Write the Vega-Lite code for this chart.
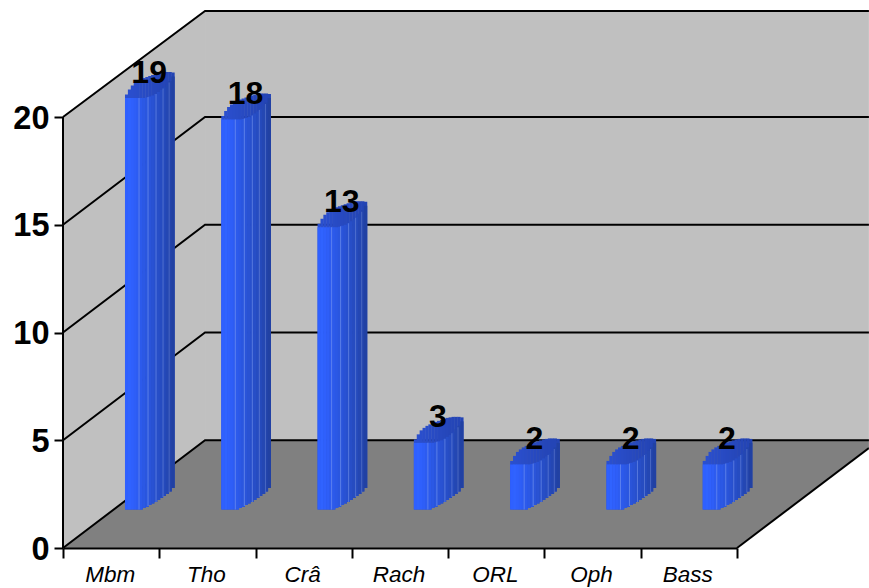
{"$schema":"https://vega.github.io/schema/vega-lite/v6.json","width":869,"height":588,"padding":0,"autosize":{"type":"none"},"background":"white","config":{"view":{"stroke":null},"font":"Liberation Sans"},
"datasets":{
"bars":[{"category":"Mbm","value":19},{"category":"Tho","value":18},{"category":"Crâ","value":13},{"category":"Rach","value":3},{"category":"ORL","value":2},{"category":"Oph","value":2},{"category":"Bass","value":2}],
"surfaces":[{"surface":"side","depth":0,"low":0,"high":20},{"surface":"side","depth":1.475,"low":5,"high":24.92},{"surface":"back","depth":1.475,"low":5,"high":24.92},{"surface":"back","depth":8.37,"low":5,"high":24.92},{"surface":"floor","depth":0,"low":0,"high":0},{"surface":"floor","depth":1.475,"low":0,"high":5},{"surface":"floor","depth":7,"low":0,"high":5},{"surface":"floor","depth":8.37,"low":4.64,"high":5}],
"edges":[{"edge":"left","depth":0,"level":0},{"edge":"left","depth":0,"level":20},
{"edge":"g0","depth":0,"level":0},{"edge":"g0","depth":1.475,"level":5},{"edge":"g0","depth":8.37,"level":5},
{"edge":"g5","depth":0,"level":5},{"edge":"g5","depth":1.475,"level":10},{"edge":"g5","depth":8.37,"level":10},
{"edge":"g10","depth":0,"level":10},{"edge":"g10","depth":1.475,"level":15},{"edge":"g10","depth":8.37,"level":15},
{"edge":"g15","depth":0,"level":15},{"edge":"g15","depth":1.475,"level":20},{"edge":"g15","depth":8.37,"level":20},
{"edge":"g20","depth":0,"level":20},{"edge":"g20","depth":1.475,"level":24.92},{"edge":"g20","depth":8.37,"level":24.92},
{"edge":"floorRight","depth":7,"level":0},{"edge":"floorRight","depth":8.37,"level":4.64}]},
"resolve":{"scale":{"x":"independent"}},
"layer":[
{"layer":[
{"data":{"name":"surfaces"},"mark":{"type":"area","opacity":1},"encoding":{"x":{"field":"depth","type":"quantitative","scale":{"domain":[0,7],"range":[63,737],"nice":false,"zero":false},"axis":null},"y":{"field":"low","type":"quantitative","scale":{"domain":[-1.856,25.43],"nice":false,"zero":false},"axis":{"title":null,"values":[0,5,10,15,20],"grid":false,"domain":false,"offset":-63,"tickSize":9,"tickWidth":2,"tickColor":"black","labelFontSize":32.5,"labelFontWeight":"bold","labelColor":"black","labelPadding":5,"labelOffset":1,"labelFont":"Liberation Sans","zindex":1}},"y2":{"field":"high"},"color":{"field":"surface","type":"nominal","scale":{"domain":["side","back","floor"],"range":["#C0C0C0","#C0C0C0","#808080"]},"legend":null}}},
{"data":{"name":"edges"},"mark":{"type":"line","color":"black","strokeWidth":2},"encoding":{"x":{"field":"depth","type":"quantitative","scale":{"domain":[0,7],"range":[63,737],"nice":false,"zero":false},"axis":null},"y":{"field":"level","type":"quantitative"},"detail":{"field":"edge"}}}
]},
{"data":{"name":"bars"},
"encoding":{"x":{"field":"category","type":"nominal","sort":null,"scale":{"range":[63,737],"paddingInner":0,"paddingOuter":0},"axis":{"title":null,"orient":"bottom","offset":-40,"labelAngle":0,"tickBand":"extent","tickSize":10,"tickWidth":2,"tickColor":"black","domainColor":"black","domainWidth":2,"labelFontSize":22.5,"labelFontStyle":"italic","labelColor":"black","labelPadding":5,"labelOffset":-1.5,"labelFont":"Liberation Sans","zindex":1}},"y":{"field":"value","type":"quantitative"}},
"layer":[
{"encoding":{"y2":{"datum":0}},
"layer":[
{"mark":{"type":"bar","width":3.3,"color":"#2A4FCF","xOffset":15.5,"yOffset":-44,"y2Offset":-38.5}},
{"mark":{"type":"bar","width":3.3,"color":"#2A4FCE","xOffset":18.4,"yOffset":-49,"y2Offset":-38.5}},
{"mark":{"type":"bar","width":3.3,"color":"#2A4ECC","xOffset":21.3,"yOffset":-53,"y2Offset":-38.5}},
{"mark":{"type":"bar","width":3.3,"color":"#2A4DCA","xOffset":24.2,"yOffset":-55.5,"y2Offset":-38.5}},
{"mark":{"type":"bar","width":3.3,"color":"#294DC8","xOffset":27.1,"yOffset":-57.5,"y2Offset":-38.5}},
{"mark":{"type":"bar","width":3.3,"color":"#294CC6","xOffset":30,"yOffset":-59,"y2Offset":-38.5}},
{"mark":{"type":"bar","width":3.3,"color":"#284BC4","xOffset":32.9,"yOffset":-60.5,"y2Offset":-40}},
{"mark":{"type":"bar","width":3.3,"color":"#284AC2","xOffset":35.8,"yOffset":-61.5,"y2Offset":-41}},
{"mark":{"type":"bar","width":3.3,"color":"#2749C0","xOffset":38.7,"yOffset":-62.5,"y2Offset":-43}},
{"mark":{"type":"bar","width":3.3,"color":"#2749BE","xOffset":41.6,"yOffset":-63.5,"y2Offset":-44.5}},
{"mark":{"type":"bar","width":3.3,"color":"#2648BC","xOffset":44.5,"yOffset":-64.5,"y2Offset":-46}},
{"mark":{"type":"bar","width":3.3,"color":"#2647BA","xOffset":47.4,"yOffset":-65.5,"y2Offset":-48}},
{"mark":{"type":"bar","width":3.3,"color":"#2546B8","xOffset":50.3,"yOffset":-66,"y2Offset":-50}},
{"mark":{"type":"bar","width":3.3,"color":"#2546B8","xOffset":53.2,"yOffset":-66.5,"y2Offset":-52}},
{"mark":{"type":"bar","width":3.3,"color":"#2445B6","xOffset":56.1,"yOffset":-66.5,"y2Offset":-54}},
{"mark":{"type":"bar","width":3.3,"color":"#2445B6","xOffset":59,"yOffset":-66.5,"y2Offset":-56.5}},
{"mark":{"type":"bar","width":3.3,"color":"#2344B4","xOffset":61.9,"yOffset":-66,"y2Offset":-60}},
{"mark":{"type":"bar","width":3.3,"color":"#2F60FF","xOffset":15.5,"yOffset":-40.5,"y2Offset":-38.5}},
{"mark":{"type":"bar","width":3.3,"color":"#3063FF","xOffset":18.4,"yOffset":-40.5,"y2Offset":-38.5}},
{"mark":{"type":"bar","width":3.3,"color":"#2F60FC","xOffset":21.3,"yOffset":-40.5,"y2Offset":-38.5}},
{"mark":{"type":"bar","width":3.3,"color":"#2E5EF7","xOffset":24.2,"yOffset":-40.5,"y2Offset":-38.5}},
{"mark":{"type":"bar","width":3.3,"color":"#2D5CF1","xOffset":27.1,"yOffset":-40.5,"y2Offset":-38.5}},
{"mark":{"type":"bar","width":3.3,"color":"#2C5AEB","xOffset":30,"yOffset":-40.5,"y2Offset":-38.5}},
{"mark":{"type":"bar","width":3.3,"color":"#2B58E5","xOffset":32.9,"yOffset":-40.5,"y2Offset":-40}},
{"mark":{"type":"bar","width":3.3,"color":"#2A56DF","xOffset":35.8,"yOffset":-41,"y2Offset":-41}},
{"mark":{"type":"bar","width":3.3,"color":"#2A54D9","xOffset":38.7,"yOffset":-42,"y2Offset":-43}},
{"mark":{"type":"bar","width":3.3,"color":"#2952D3","xOffset":41.6,"yOffset":-43,"y2Offset":-44.5}},
{"mark":{"type":"bar","width":3.3,"color":"#2850CD","xOffset":44.5,"yOffset":-44.5,"y2Offset":-46}},
{"mark":{"type":"bar","width":3.3,"color":"#274EC7","xOffset":47.4,"yOffset":-46.5,"y2Offset":-48}},
{"mark":{"type":"bar","width":3.3,"color":"#264CC1","xOffset":50.3,"yOffset":-48.5,"y2Offset":-50}},
{"mark":{"type":"bar","width":3.3,"color":"#254ABB","xOffset":53.2,"yOffset":-51,"y2Offset":-52}},
{"mark":{"type":"bar","width":3.3,"color":"#2447B3","xOffset":56.1,"yOffset":-54,"y2Offset":-54}},
{"mark":{"type":"bar","width":3.3,"color":"#2344AB","xOffset":59,"yOffset":-57.5,"y2Offset":-56.5}},
{"mark":{"type":"bar","width":3.3,"color":"#2141A3","xOffset":61.9,"yOffset":-62,"y2Offset":-60}},
{"mark":{"type":"bar","width":1,"color":"#5C80EE","xOffset":27.9,"yOffset":-40.5,"y2Offset":-38.5}},
{"mark":{"type":"bar","width":1,"color":"#5C80E8","xOffset":36.9,"yOffset":-41.5,"y2Offset":-42}},
{"mark":{"type":"bar","width":1,"color":"#5678DC","xOffset":44.9,"yOffset":-44.5,"y2Offset":-46}},
{"mark":{"type":"bar","width":1,"color":"#5070D0","xOffset":51.9,"yOffset":-50,"y2Offset":-51}},
{"mark":{"type":"bar","width":1,"color":"#4A68C4","xOffset":58,"yOffset":-56,"y2Offset":-55.5}}
]},
{"mark":{"type":"text","font":"Liberation Sans","fontWeight":"bold","fontSize":32,"color":"black","xOffset":38,"yOffset":-66,"baseline":"middle","align":"center"},"encoding":{"text":{"field":"value","type":"quantitative"}}}
]}
]}
